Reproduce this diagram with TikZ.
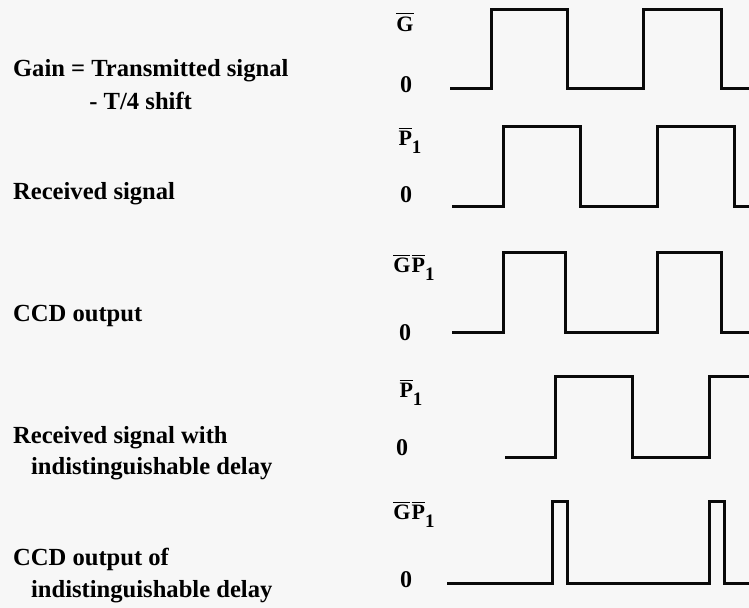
\documentclass[tikz,border=0pt]{standalone}
\usepackage{fontspec}
\setmainfont{Liberation Serif}
\usepackage{tikz}
\usetikzlibrary{positioning}
\definecolor{paper}{RGB}{247,247,247}
\definecolor{ink}{RGB}{10,10,10}
\newcommand{\barG}{$\overline{\textbf{G}}$}
\newcommand{\barP}{$\overline{\textbf{P}}$\raisebox{-4pt}{\fontsize{9.5}{10}\selectfont\textbf{1}}}

\begin{document}
\begin{tikzpicture}[x=0.5pt, y=-0.5pt,
  wave/.style={line width=1.5pt, ink},
  txt/.style={anchor=west, inner sep=0pt, font=\fontsize{12.3}{15}\selectfont\bfseries},
  lvl/.style={inner sep=0pt, font=\fontsize{12}{14}\selectfont\bfseries},
  sig/.style={inner sep=0pt, font=\fontsize{11}{13}\selectfont\bfseries}]
  \fill[paper] (0,0) rectangle (749,608);
  \useasboundingbox (0,0) rectangle (749,608);

  % left column
  \node[txt] (gainA) at (12.7, 71) {Gain = Transmitted signal};
  \node[txt] (gainB) at (89, 100.5) {- T/4 shift};
  \node[txt] (recv) at (12.7, 194) {Received signal};
  \node[txt] (ccd) at (12.7, 316) {CCD output};
  \node[txt] (recvA) at (12.7, 437.5) {Received signal with};
  \node[txt] (recvB) at (30.7, 469) {indistinguishable delay};
  \node[txt] (ccdA) at (12.7, 559) {CCD output of};
  \node[txt] (ccdB) at (30.7, 592) {indistinguishable delay};

  % levels
  \node[sig] (hiG) at (405, 22) {\barG};
  \node[lvl] (loG) at (406, 85) {0};
  \node[sig] (hiP) at (410, 140) {\barP};
  \node[lvl] (loP) at (406, 195) {0};
  \node[sig] (hiGP) at (414, 267) {\barG\kern0.6pt\barP};
  \node[lvl] (loGP) at (405, 333) {0};
  \node[sig] (hiPd) at (411, 392) {\barP};
  \node[lvl] (loPd) at (402, 448) {0};
  \node[sig] (hiGPd) at (414, 514) {\barG\kern0.6pt\barP};
  \node[lvl] (loGPd) at (406, 580) {0};

  % waveforms
  \draw[wave] (450,89) -| (491,9.5) -| (567,89) -| (643,9.5) -| (721,89) -- (749,89);
  \draw[wave] (452,207) -| (503,127) -| (580,207) -| (657,127) -| (734,207) -- (749,207);
  \draw[wave] (452,333) -| (503,253) -| (565,333) -| (657,253) -| (721,333) -- (749,333);
  \draw[wave] (505,458) -| (555,377) -| (632,458) -| (709,377) -- (749,377);
  \draw[wave] (447,583) -| (552,502) -| (567,583) -| (709,502) -| (724,583) -- (749,583);
\end{tikzpicture}
\end{document}
